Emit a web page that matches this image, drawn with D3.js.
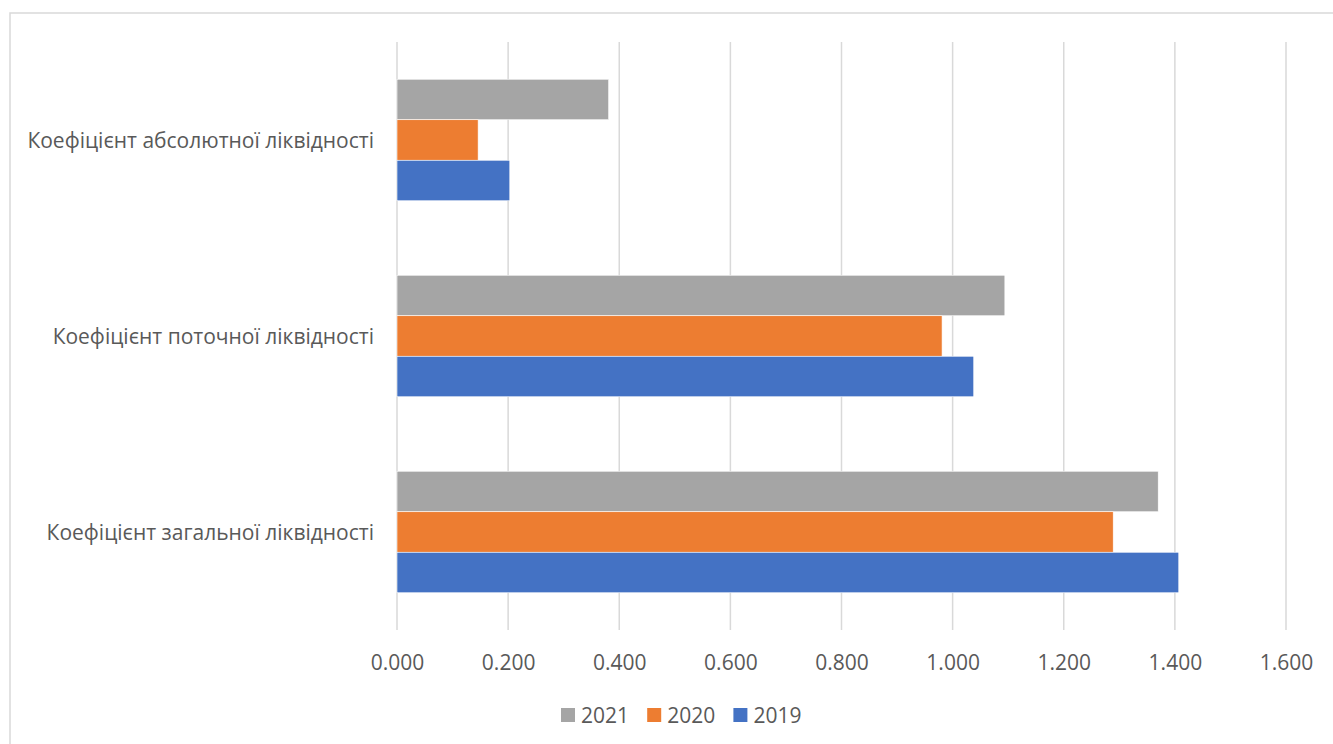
<!DOCTYPE html>
<html>
<head>
<meta charset="utf-8">
<script src="https://cdn.jsdelivr.net/npm/d3@7"></script>
<style>
  html, body { margin: 0; padding: 0; background: #fff; }
  svg { display: block; }
  text { font-family: "Open Sans", "Noto Sans", sans-serif; fill: #595959; }
</style>
</head>
<body>
<svg id="chart" width="1333" height="744"></svg>
<script>
// ---- Data ----
const categories = [
  "Коефіцієнт абсолютної ліквідності",
  "Коефіцієнт поточної ліквідності",
  "Коефіцієнт загальної ліквідності"
];
const seriesNames = ["2021", "2020", "2019"];
const values2021 = [0.381, 1.094, 1.370];
const values2020 = [0.146, 0.981, 1.289];
const values2019 = [0.203, 1.038, 1.407];
const xTicks = [0, 0.2, 0.4, 0.6, 0.8, 1.0, 1.2, 1.4, 1.6];
const colors = ["#A5A5A5", "#ED7D31", "#4472C4"];

const seriesValues = [values2021, values2020, values2019];
const table = categories.map((c, i) => ({
  category: c,
  values: seriesNames.map((s, j) => ({ series: s, value: seriesValues[j][i], color: colors[j] }))
}));

// ---- Layout ----
const svg = d3.select("#chart");
const plot = { left: 397, right: 1286, top: 42, bottom: 630 };

// chart border (extends beyond right/bottom edges as in reference)
svg.append("rect")
  .attr("x", 10).attr("y", 13)
  .attr("width", 1400).attr("height", 800)
  .attr("fill", "none").attr("stroke", "#d9d9d9").attr("stroke-width", 1.5);

const x = d3.scaleLinear().domain([0, 1.6]).range([plot.left, plot.right]);
const y0 = d3.scaleBand().domain(categories).range([plot.top, plot.bottom])
  .paddingInner(0.38).paddingOuter(0.19);
const y1 = d3.scaleBand().domain(seriesNames).range([0, y0.bandwidth()]);

// gridlines
svg.append("g").selectAll("line").data(xTicks).join("line")
  .attr("x1", d => x(d)).attr("x2", d => x(d))
  .attr("y1", plot.top).attr("y2", plot.bottom)
  .attr("stroke", "#d9d9d9").attr("stroke-width", 1.5);

// bars
const groups = svg.append("g").selectAll("g").data(table).join("g")
  .attr("transform", d => `translate(0,${y0(d.category)})`);
groups.selectAll("rect").data(d => d.values).join("rect")
  .attr("x", x(0))
  .attr("y", d => y1(d.series))
  .attr("width", d => x(d.value) - x(0))
  .attr("height", y1.bandwidth())
  .attr("fill", d => d.color)
  .attr("stroke", "#ffffff").attr("stroke-width", 0.6);

// x-axis tick labels
const xAxis = d3.axisBottom(x).tickValues(xTicks).tickFormat(d3.format(".3f")).tickSize(0).tickPadding(0);
const gx = svg.append("g").attr("transform", `translate(0,${plot.bottom})`).call(xAxis);
gx.select(".domain").remove();
gx.selectAll("text")
  .attr("y", 40).attr("dy", null)
  .style("font-size", "21px").style("fill", "#595959")
  .style("font-family", '"Open Sans", sans-serif');

// category labels
const yAxis = d3.axisLeft(y0).tickSize(0).tickPadding(0);
const gy = svg.append("g").attr("transform", `translate(374,0)`).call(yAxis);
gy.select(".domain").remove();
gy.selectAll("text")
  .attr("dy", "0.36em")
  .style("font-size", "21px").style("fill", "#595959")
  .style("font-family", '"Open Sans", sans-serif');

// legend
const legend = svg.append("g").attr("transform", "translate(561,708)");
const items = legend.selectAll("g").data(seriesNames).join("g")
  .attr("transform", (d, i) => `translate(${i * 86.2},0)`);
items.append("rect").attr("width", 14).attr("height", 14)
  .attr("fill", (d, i) => colors[i]);
items.append("text").attr("x", 20).attr("y", 7).attr("dy", "0.36em")
  .style("font-size", "21px").text(d => d);
</script>
</body>
</html>
